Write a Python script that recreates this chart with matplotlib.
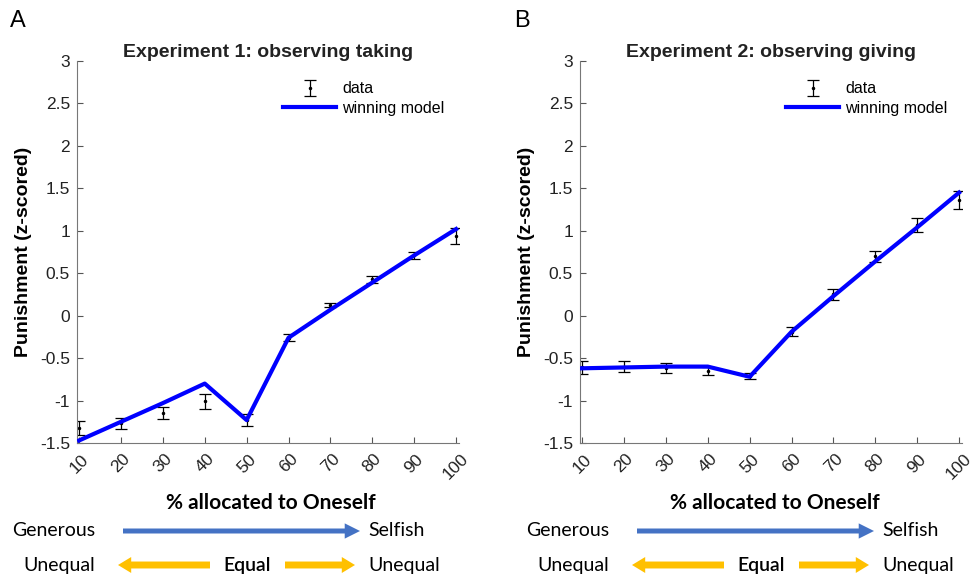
import matplotlib.pyplot as plt
from matplotlib.patches import FancyArrowPatch

plt.rcParams['axes.unicode_minus'] = False
plt.rcParams['font.family'] = ['Liberation Sans', 'DejaVu Sans']

# % allocated to oneself
alloc = [10, 20, 30, 40, 50, 60, 70, 80, 90, 100]

# Experiment 1: observing taking
exp1_mean = [-1.32, -1.27, -1.15, -1.01, -1.23, -0.26, 0.125, 0.43, 0.71, 0.94]
exp1_sem = [0.08, 0.065, 0.07, 0.085, 0.07, 0.04, 0.025, 0.04, 0.04, 0.09]
exp1_model = [-1.47, -1.25, -1.03, -0.80, -1.23, -0.26, 0.07, 0.39, 0.71, 1.02]

# Experiment 2: observing giving
exp2_mean = [-0.61, -0.60, -0.62, -0.655, -0.715, -0.19, 0.25, 0.70, 1.07, 1.36]
exp2_sem = [0.08, 0.065, 0.06, 0.045, 0.035, 0.055, 0.06, 0.065, 0.08, 0.105]
exp2_model = [-0.62, -0.61, -0.60, -0.60, -0.72, -0.19, 0.23, 0.64, 1.04, 1.45]

titles = ['Experiment 1: observing taking', 'Experiment 2: observing giving']
letters = ['A', 'B']
yticks = [-1.5, -1, -0.5, 0, 0.5, 1, 1.5, 2, 2.5, 3]

W, H = 979, 578


def fxy(x, y):
    return x / W, 1 - y / H


def arrow(fig, x0, x1, y, color, tail, head_w, head_l):
    style = f'simple,tail_width={tail},head_width={head_w},head_length={head_l}'
    p = FancyArrowPatch(fxy(x0, y), fxy(x1, y), transform=fig.transFigure,
                        arrowstyle=style, mutation_scale=10, color=color,
                        shrinkA=0, shrinkB=0, lw=0)
    fig.patches.append(p)


fig = plt.figure(figsize=(9.79, 5.78), dpi=100)

calibri = ['Lato', 'DejaVu Sans']
blue_arrow = '#4472C4'
gold_arrow = '#FFC000'

panels = [(77, exp1_mean, exp1_sem, exp1_model),
          (580, exp2_mean, exp2_sem, exp2_model)]

for i, (left, mean, sem, model) in enumerate(panels):
    ax = fig.add_axes([left / W, 1 - 443 / H, 382 / W, 382 / H])
    eb = ax.errorbar(alloc, mean, yerr=sem, fmt='.', color='black',
                     markersize=3, elinewidth=0.9, capsize=4.5, capthick=0.9,
                     label='data', zorder=2)
    ln, = ax.plot(alloc, model, color='#0000FF', lw=3, label='winning model', zorder=3)

    ax.set_xlim(9.5, 100.7)
    ax.set_ylim(-1.5, 3)
    ax.set_xticks(alloc)
    ax.set_xticklabels([str(a) for a in alloc], rotation=45, ha='center',
                       va='top', fontsize=12.5)
    ax.set_yticks(yticks)
    ax.set_yticklabels([f'{v:g}' for v in yticks], fontsize=12.5)
    ax.tick_params(direction='in', length=4, width=0.8, color='#555555',
                   labelcolor='#222222')
    ax.tick_params(axis='y', pad=5)
    ax.tick_params(axis='x', pad=6)
    for s in ['top', 'right']:
        ax.spines[s].set_visible(False)
    for s in ['left', 'bottom']:
        ax.spines[s].set_color('#777777')
        ax.spines[s].set_linewidth(0.8)

    ax.set_title(titles[i], fontsize=14, fontweight='bold', color='#222222', pad=2)
    ax.set_ylabel('Punishment (z-scored)', fontsize=14, fontweight='bold', labelpad=6)

    ax.legend([eb, ln], ['data', 'winning model'], loc='upper left',
              bbox_to_anchor=(0.54, 0.947), frameon=False,
              fontsize=11.5, handlelength=3.3, handletextpad=0.4,
              labelspacing=0.3, borderpad=0, borderaxespad=0)

    # panel letter
    lx = 10 if i == 0 else 514
    fig.text(*fxy(lx, 21), letters[i], fontsize=17, ha='left', va='center')

    # x label and the description rows below
    fig.text(*fxy(271 + 504 * i, 503), '% allocated to Oneself', family=calibri,
             fontsize=15, fontweight='bold', ha='center', va='center')
    off = 514 * i
    fig.text(*fxy(12 + off, 531), 'Generous', family=calibri,
             fontsize=14, ha='left', va='center')
    arrow(fig, 123 + off, 360 + off, 531, blue_arrow, 0.36, 1.1, 1.1)
    fig.text(*fxy(368 + off, 531), 'Selfish', family=calibri,
             fontsize=14, ha='left', va='center')

    fig.text(*fxy(23 + off, 565), 'Unequal', family=calibri,
             fontsize=14, ha='left', va='center')
    arrow(fig, 210 + off, 118 + off, 565, gold_arrow, 0.5, 1.15, 0.95)
    fig.text(*fxy(247 + off, 565), 'Equal', family=calibri,
             fontsize=14, fontweight='semibold', ha='center', va='center')
    arrow(fig, 285 + off, 355 + off, 565, gold_arrow, 0.5, 1.15, 0.95)
    fig.text(*fxy(368 + off, 565), 'Unequal', family=calibri,
             fontsize=14, ha='left', va='center')

fig.savefig('out.png', dpi=100)
